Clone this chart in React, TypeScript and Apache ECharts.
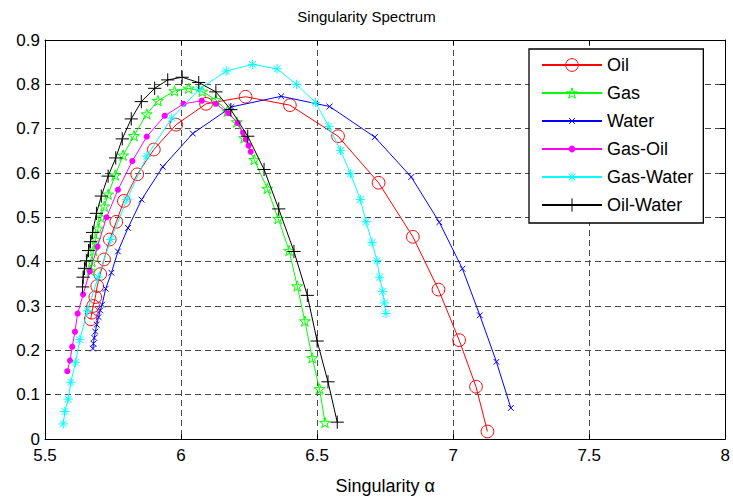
import React, { useEffect, useRef } from 'react';
import * as echarts from 'echarts';

// ---- Data ----
const seriesNames = ['Oil', 'Gas', 'Water', 'Gas-Oil', 'Gas-Water', 'Oil-Water'];
const seriesColors = ['#ff0000', '#00ff00', '#0000ff', '#ff00ff', '#00ffff', '#000000'];

const oilAlpha = [5.668, 5.672, 5.677, 5.685, 5.692, 5.703, 5.717, 5.738, 5.762, 5.790, 5.839, 5.900, 5.982, 6.092, 6.237, 6.400, 6.577, 6.726, 6.852, 6.946, 7.022, 7.084, 7.126];
const oilF = [0.270, 0.285, 0.300, 0.320, 0.345, 0.372, 0.405, 0.450, 0.490, 0.537, 0.597, 0.653, 0.709, 0.756, 0.772, 0.753, 0.683, 0.578, 0.456, 0.337, 0.223, 0.118, 0.017];

const gasAlpha = [5.668, 5.672, 5.678, 5.686, 5.695, 5.706, 5.718, 5.732, 5.758, 5.787, 5.827, 5.874, 5.915, 5.976, 6.028, 6.078, 6.128, 6.170, 6.205, 6.232, 6.269, 6.317, 6.357, 6.397, 6.427, 6.455, 6.482, 6.509, 6.529];
const gasF = [0.380, 0.400, 0.425, 0.450, 0.475, 0.500, 0.525, 0.552, 0.595, 0.640, 0.684, 0.733, 0.763, 0.785, 0.791, 0.784, 0.765, 0.739, 0.715, 0.679, 0.630, 0.565, 0.497, 0.425, 0.345, 0.266, 0.183, 0.113, 0.037];

const waterAlpha = [5.676, 5.678, 5.681, 5.685, 5.690, 5.697, 5.703, 5.710, 5.723, 5.744, 5.768, 5.805, 5.855, 5.933, 6.043, 6.185, 6.368, 6.546, 6.712, 6.846, 6.949, 7.034, 7.098, 7.159, 7.212];
const waterF = [0.204, 0.215, 0.228, 0.242, 0.258, 0.275, 0.290, 0.303, 0.339, 0.375, 0.423, 0.476, 0.540, 0.614, 0.689, 0.749, 0.773, 0.750, 0.681, 0.591, 0.489, 0.384, 0.279, 0.174, 0.070];

const gasOilAlpha = [5.582, 5.592, 5.600, 5.610, 5.620, 5.640, 5.665, 5.693, 5.726, 5.768, 5.821, 5.874, 5.940, 6.009, 6.076, 6.128, 6.173, 6.208, 6.228, 6.238, 6.248, 6.256];
const gasOilF = [0.153, 0.177, 0.208, 0.242, 0.283, 0.326, 0.378, 0.434, 0.500, 0.562, 0.627, 0.682, 0.729, 0.756, 0.763, 0.756, 0.735, 0.713, 0.691, 0.676, 0.662, 0.648];

const gasWaterAlpha = [5.567, 5.573, 5.585, 5.595, 5.612, 5.628, 5.656, 5.695, 5.742, 5.801, 5.874, 5.966, 6.067, 6.166, 6.263, 6.353, 6.424, 6.494, 6.543, 6.586, 6.623, 6.659, 6.680, 6.702, 6.720, 6.730, 6.741, 6.747, 6.753];
const gasWaterF = [0.034, 0.062, 0.090, 0.128, 0.173, 0.224, 0.289, 0.365, 0.450, 0.540, 0.638, 0.724, 0.789, 0.830, 0.845, 0.835, 0.800, 0.759, 0.705, 0.651, 0.598, 0.540, 0.490, 0.443, 0.402, 0.365, 0.333, 0.307, 0.283];

const oilWaterAlpha = [5.638, 5.640, 5.645, 5.652, 5.660, 5.667, 5.675, 5.689, 5.707, 5.732, 5.760, 5.784, 5.817, 5.854, 5.903, 5.951, 6.004, 6.065, 6.128, 6.183, 6.245, 6.305, 6.359, 6.415, 6.464, 6.500, 6.540, 6.574];
const oilWaterF = [0.343, 0.365, 0.385, 0.402, 0.425, 0.445, 0.466, 0.509, 0.548, 0.593, 0.634, 0.677, 0.722, 0.761, 0.791, 0.810, 0.816, 0.804, 0.783, 0.743, 0.683, 0.608, 0.519, 0.423, 0.324, 0.221, 0.129, 0.038];

const xMin = 5.5, xMax = 8, xStep = 0.5;
const yMin = 0, yMax = 0.9, yStep = 0.1;

// ---- Marker glyphs (MATLAB style), in a padded 20x20 box ----
const PAD = 'M0 0M20 20';
function ringPath(r: number, n = 28): string {
  let d = '';
  for (let i = 0; i <= n; i++) {
    const a = (i / n) * Math.PI * 2;
    const x = 10 + r * Math.cos(a), y = 10 + r * Math.sin(a);
    d += (i === 0 ? 'M' : 'L') + x.toFixed(3) + ' ' + y.toFixed(3);
  }
  return 'path://' + PAD + d + 'Z';
}
function starPath(R: number): string {
  const r = R * 0.382;
  const cy = 10 + R * 0.095;
  let d = '';
  for (let i = 0; i < 10; i++) {
    const rad = i % 2 === 0 ? R : r;
    const a = -Math.PI / 2 + (i * Math.PI) / 5;
    const x = 10 + rad * Math.cos(a), y = cy + rad * Math.sin(a);
    d += (i === 0 ? 'M' : 'L') + x.toFixed(3) + ' ' + y.toFixed(3);
  }
  return 'path://' + PAD + d + 'Z';
}
function crossPath(a: number): string {
  return `path://${PAD}M${10 - a} ${10 - a}L${10 + a} ${10 + a}M${10 + a} ${10 - a}L${10 - a} ${10 + a}`;
}
function plusPath(a: number): string {
  return `path://${PAD}M${10 - a} 10L${10 + a} 10M10 ${10 - a}L10 ${10 + a}`;
}
function asteriskPath(a: number): string {
  const b = a * 0.72;
  return `path://${PAD}M${10 - a} 10L${10 + a} 10M10 ${10 - a}L10 ${10 + a}M${10 - b} ${10 - b}L${10 + b} ${10 + b}M${10 + b} ${10 - b}L${10 - b} ${10 + b}`;
}

const markers = [ringPath(8.8), starPath(8.0), crossPath(4), ringPath(4.2), asteriskPath(6.5), plusPath(9.2)];
const filled = [false, false, false, true, false, false];

const FONT = '"Liberation Sans", Arial, Helvetica, sans-serif';

export default function App() {
  const ref = useRef<HTMLDivElement>(null);
  useEffect(() => {
    if (!ref.current) return;
    const chart = echarts.init(ref.current, undefined, { renderer: 'svg' });
    const xs = [oilAlpha, gasAlpha, waterAlpha, gasOilAlpha, gasWaterAlpha, oilWaterAlpha];
    const ys = [oilF, gasF, waterF, gasOilF, gasWaterF, oilWaterF];

    const series = seriesNames.map((name, i) => ({
      name,
      type: 'line',
      data: xs[i].map((x, k) => [x, ys[i][k]]),
      symbol: markers[i],
      symbolSize: 14.4,
      showSymbol: true,
      lineStyle: { color: seriesColors[i], width: 1 },
      itemStyle: filled[i]
        ? { color: seriesColors[i], borderColor: seriesColors[i], borderWidth: 0 }
        : { color: 'rgba(0,0,0,0)', borderColor: seriesColors[i], borderWidth: 1 },
      emphasis: { disabled: true },
      z: 2 + i,
    }));

    const splitLine = {
      show: true,
      showMinLine: false,
      showMaxLine: false,
      lineStyle: { color: '#4a4a4a', width: 1, type: [6, 4] },
    };
    const axisLine = { show: true, onZero: false, lineStyle: { color: '#000', width: 1 } };
    const axisTick = { show: true, inside: true, length: 5, lineStyle: { color: '#000', width: 1 } };
    const label = { color: '#000', fontSize: 17, fontFamily: FONT };

    chart.setOption({
      animation: false,
      backgroundColor: '#fff',
      title: {
        text: 'Singularity Spectrum',
        left: 'center',
        top: 9,
        padding: 0,
        textStyle: { color: '#000', fontSize: 15, fontWeight: 'normal', fontFamily: FONT },
      },
      grid: { left: 45, right: 5, top: 40, bottom: 59, containLabel: false },
      xAxis: [
        {
          type: 'value', min: xMin, max: xMax, interval: xStep, position: 'bottom',
          axisLine, axisTick, splitLine,
          axisLabel: { ...label, margin: 8 },
          name: 'Singularity \u03b1', nameLocation: 'middle', nameGap: 38,
          nameTextStyle: { color: '#000', fontSize: 18, fontFamily: FONT },
        },
        {
          type: 'value', min: xMin, max: xMax, interval: xStep, position: 'top',
          axisLine, axisTick, splitLine: { show: false }, axisLabel: { show: false },
        },
      ],
      yAxis: [
        {
          type: 'value', min: yMin, max: yMax, interval: yStep, position: 'left',
          axisLine, axisTick, splitLine,
          axisLabel: { ...label, margin: 5 },
        },
        {
          type: 'value', min: yMin, max: yMax, interval: yStep, position: 'right',
          axisLine, axisTick, splitLine: { show: false }, axisLabel: { show: false },
        },
      ],
      legend: {
        show: true,
        orient: 'vertical',
        left: 529,
        top: 49,
        padding: [7, 10, 9, 12],
        itemWidth: 60,
        itemHeight: 18,
        itemGap: 10,
        backgroundColor: '#fff',
        borderColor: '#000',
        borderWidth: 1.3,
        borderRadius: 0,
        itemStyle: { borderWidth: 1 },
        textStyle: { color: '#000', fontSize: 18, fontFamily: FONT },
        data: seriesNames,
        selectedMode: false,
      },
      series,
    });
    return () => chart.dispose();
  }, []);
  return (
    <div
      ref={ref}
      style={{ position: 'fixed', left: 0, top: 0, width: 733, height: 500, background: '#fff' }}
    />
  );
}
